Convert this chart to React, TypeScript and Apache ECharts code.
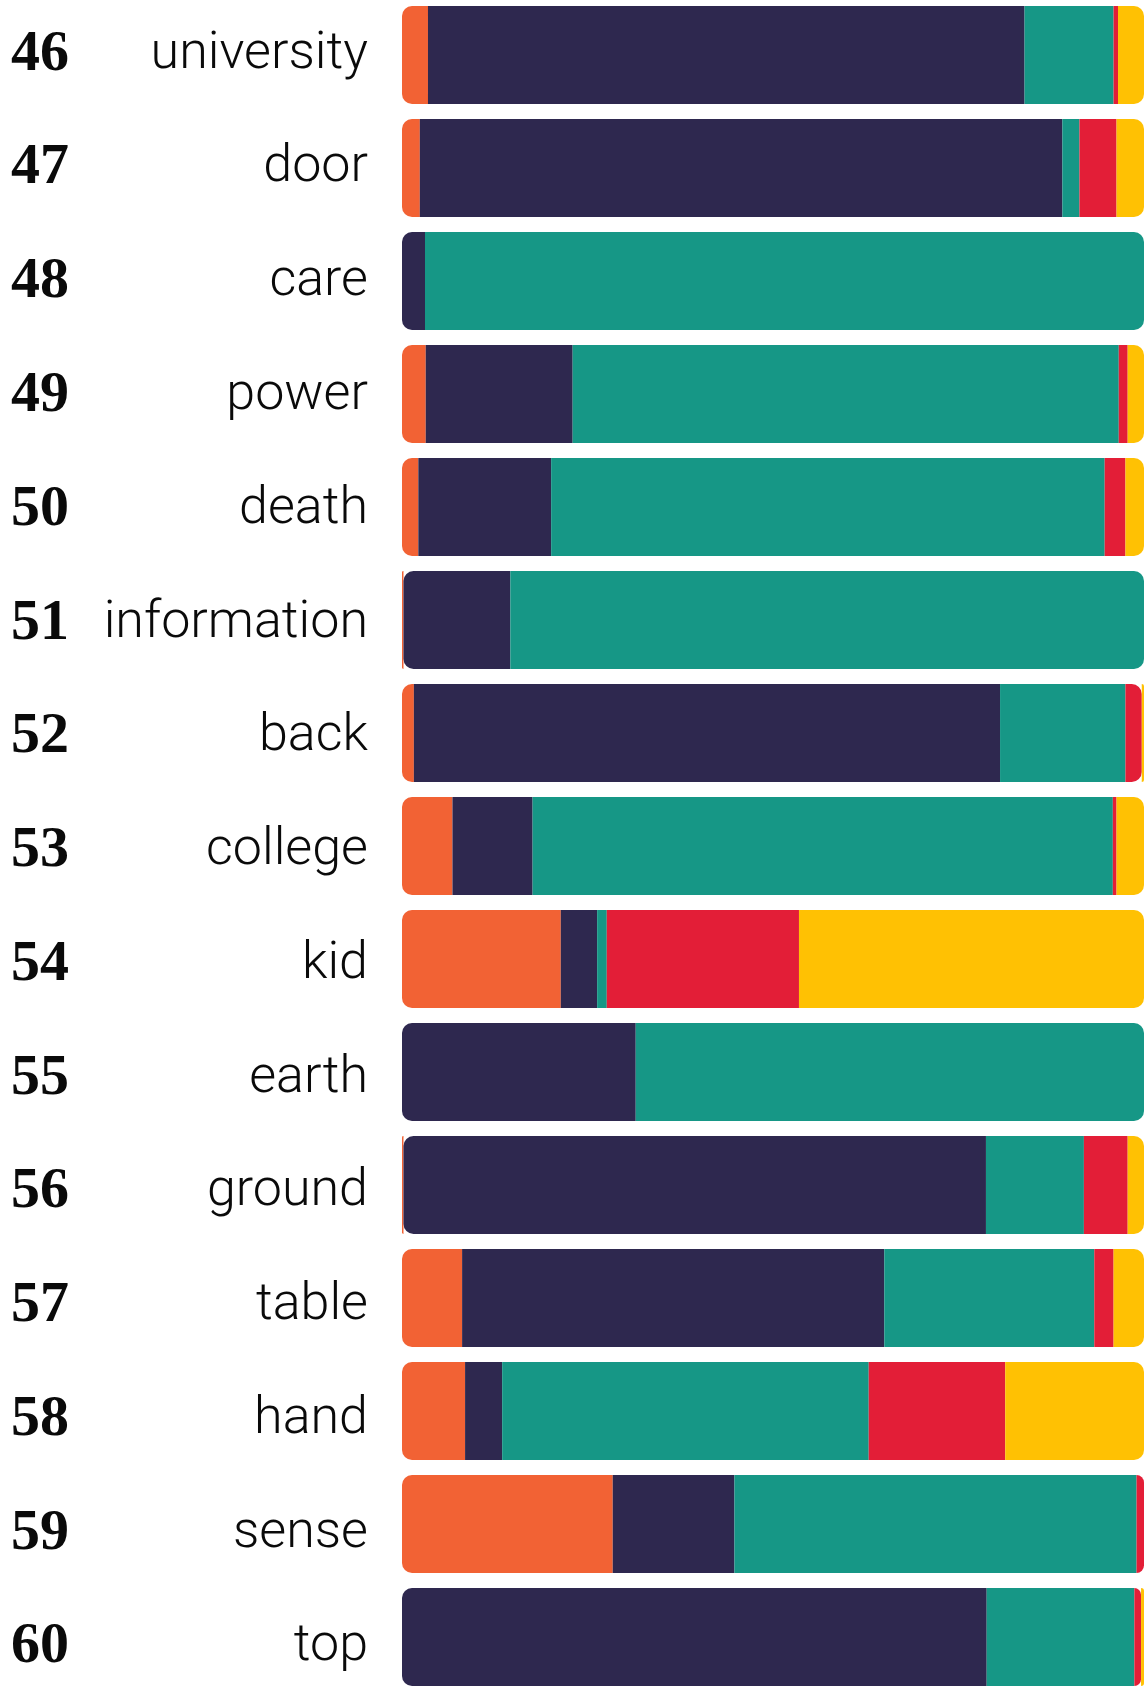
import React, { useEffect, useRef } from "react";
import * as echarts from "echarts";

const ranks = ["46", "47", "48", "49", "50", "51", "52", "53", "54", "55", "56", "57", "58", "59", "60"];
const words = ["university", "door", "care", "power", "death", "information", "back", "college", "kid", "earth", "ground", "table", "hand", "sense", "top"];

const orangeVals = [3.5, 2.4, 0, 3.2, 2.2, 0.2, 1.6, 6.8, 21.4, 0, 0.2, 8.1, 8.5, 28.4, 0];
const navyVals = [80.4, 86.6, 3.1, 19.8, 17.9, 14.4, 79.0, 10.8, 4.9, 31.5, 78.5, 56.9, 5.0, 16.4, 78.8];
const tealVals = [12.0, 2.3, 96.9, 73.6, 74.6, 85.4, 16.9, 78.2, 1.3, 68.5, 13.2, 28.3, 49.4, 54.2, 19.9];
const redVals = [0.6, 5.0, 0, 1.2, 2.8, 0, 2.2, 0.5, 25.9, 0, 5.9, 2.6, 18.4, 1.0, 0.9];
const yellowVals = [3.5, 3.7, 0, 2.2, 2.5, 0, 0.3, 3.7, 46.5, 0, 2.2, 4.1, 18.7, 0, 0.4];

const seriesVals = [orangeVals, navyVals, tealVals, redVals, yellowVals];
const seriesColors = ["#F26234", "#2E284F", "#169786", "#E31E37", "#FFC103"];
const seriesNames = ["orange", "navy", "teal", "red", "yellow"];

const RADIUS = 10;
const EDGE = 1.0;

function buildSeries() {
  return seriesVals.map((vals, s) => ({
    name: seriesNames[s],
    type: "bar",
    stack: "total",
    barWidth: 98,
    xAxisIndex: 0,
    yAxisIndex: 0,
    itemStyle: { color: seriesColors[s] },
    data: vals.map((v, i) => {
      let start = 0;
      for (let k = 0; k < s; k++) start += seriesVals[k][i];
      const end = start + v;
      const l = start < EDGE ? RADIUS : 0;
      const r = end > 100 - EDGE ? RADIUS : 0;
      return { value: v, itemStyle: { borderRadius: [l, r, r, l] } };
    }),
  }));
}

const hiddenAxisParts = {
  axisLine: { show: false },
  axisTick: { show: false },
  splitLine: { show: false },
};

export default function App() {
  const ref = useRef<HTMLDivElement>(null);
  useEffect(() => {
    if (!ref.current) return;
    const chart = echarts.init(ref.current, undefined, { renderer: "svg" });
    chart.setOption({
      animation: false,
      backgroundColor: "#ffffff",
      grid: [
        {
          left: 402,
          right: 1,
          top: -1.5,
          height: 1695,
          containLabel: false,
          outerBoundsMode: "none",
        },
        {
          left: 402,
          right: 1,
          top: -6.7,
          height: 1706.5,
          containLabel: false,
          outerBoundsMode: "none",
        },
      ],
      xAxis: [
        { type: "value", gridIndex: 0, min: 0, max: 100, show: false },
        { type: "value", gridIndex: 1, min: 0, max: 1, show: false },
      ],
      yAxis: [
        {
          type: "category",
          gridIndex: 0,
          data: words,
          inverse: true,
          show: false,
        },
        {
          type: "category",
          gridIndex: 1,
          data: words,
          inverse: true,
          position: "left",
          ...hiddenAxisParts,
          axisLabel: {
            margin: 34,
            align: "right",
            fontFamily: "Roboto",
            fontWeight: 300,
            fontSize: 52,
            color: "#0a0a0a",
            padding: [0, 0, 4, 0],
          },
        },
        {
          type: "category",
          gridIndex: 1,
          data: ranks,
          inverse: true,
          position: "left",
          ...hiddenAxisParts,
          axisLabel: {
            margin: 391,
            align: "left",
            fontFamily: "Liberation Serif",
            fontWeight: "bold",
            fontSize: 58,
            color: "#0a0a0a",
            padding: [0, 0, 4, 0],
          },
        },
      ],
      series: buildSeries(),
    });
    return () => chart.dispose();
  }, []);
  return (
    <div
      ref={ref}
      style={{ position: "absolute", left: 0, top: 0, width: 1145, height: 1686, background: "#fff" }}
    />
  );
}
